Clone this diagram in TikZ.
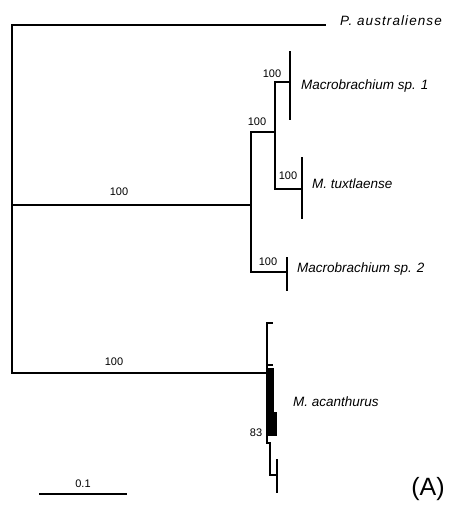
\documentclass[tikz,border=0pt]{standalone}
\usepackage{fontspec}
\setmainfont{Liberation Sans}
\usetikzlibrary{positioning}

\begin{document}
\begin{tikzpicture}[
    x=1pt, y=-1pt,
    branch/.style={line width=2.9pt, line cap=rect},
    taxon/.style={font=\fontsize{13.5}{14}\selectfont\itshape, anchor=west, inner sep=1pt},
    support/.style={font=\fontsize{11}{12}\selectfont, inner sep=1pt},
]
    \useasboundingbox (0,0) rectangle (470,508);

    % Internal nodes and tips
    \coordinate (root) at (12,205);
    \coordinate (aus) at (325,25);
    \coordinate (macro) at (251,205);
    \coordinate (upper) at (275,132);
    \coordinate (sp1) at (290,82);
    \coordinate (tux) at (302,189);
    \coordinate (sp2) at (287,272);
    \coordinate (acan) at (267,373);

    % Backbone
    \draw[branch] (aus) -| (12,373) -- (acan);
    \draw[branch] (root) -- (macro);
    \draw[branch] (upper) -| (macro) |- (sp2);
    \draw[branch] (sp1) -| (upper) |- (tux);

    % Terminal brackets
    \draw[branch] (290,52) -- (290,119);
    \draw[branch] (302,158) -- (302,218);
    \draw[branch] (287,258) -- (287,290);

    % M. acanthurus clade
    \draw[branch] (272,323) -- (267,323) -- (267,443) -- (270,443) -- (270,475) -- (275,475);
    \draw[branch] (267,365) -- (272,365);
    \fill (265.5,368) rectangle (274,412);
    \fill (265.5,412) rectangle (277,436);
    \draw[branch] (277,460) -- (277,492);

    % Taxon labels
    \node[taxon, font=\fontsize{13.5}{14}\selectfont\itshape\addfontfeature{LetterSpace=8}] (lAus) at (339,21) {P. australiense};
    \node[taxon] (lSp1) at (300,86) {Macrobrachium sp. 1};
    \node[taxon] (lTux) at (311,184) {M. tuxtlaense};
    \node[taxon] (lSp2) at (296,269) {Macrobrachium sp. 2};
    \node[taxon] (lAcan) at (292,402) {M. acanthurus};

    % Support values
    \node[support] (s1) at (119,192) {100};
    \node[support] (s2) at (257,122) {100};
    \node[support] (s3) at (272,74) {100};
    \node[support] (s4) at (288,176) {100};
    \node[support] (s5) at (268,262) {100};
    \node[support] (s6) at (114,362) {100};
    \node[support] (s7) at (256,433) {83};

    % Scale bar
    \coordinate (barL) at (40,494);
    \coordinate (barR) at (126,494);
    \draw[branch] (barL) -- (barR)
        node[midway, above=4pt, support] (barlab) {0.1};

    % Panel label
    \node[font=\fontsize{25}{28}\selectfont] (panel) at (428,489) {(A)};
\end{tikzpicture}
\end{document}
